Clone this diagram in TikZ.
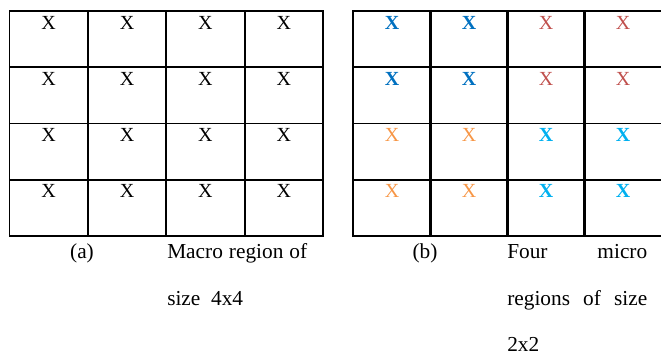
\documentclass[tikz,border=0pt]{standalone}
\usepackage{fontspec}
\setmainfont{Liberation Serif}
\usetikzlibrary{positioning}

\definecolor{microblue}{RGB}{0,112,192}
\definecolor{microred}{RGB}{192,80,77}
\definecolor{microorange}{RGB}{247,150,70}
\definecolor{microcyan}{RGB}{0,176,240}
\newcommand\letterfont{\fontsize{15}{18}\selectfont}

\begin{document}
\begin{tikzpicture}[x=0.75pt,y=-0.75pt,
  cell/.style={rectangle,draw,line width=1.4pt,minimum width=58.8pt,minimum height=42.2pt,inner sep=0pt,anchor=north west},
  letter/.style={anchor=base,inner sep=0pt,font=\letterfont},
  q11/.style={text=microblue,font=\letterfont\bfseries},
  q12/.style={text=microred},
  q21/.style={text=microorange},
  q22/.style={text=microcyan,font=\letterfont\bfseries},
  caption/.style={anchor=base west,inner sep=0pt,font=\fontsize{16}{19}\selectfont}]

\useasboundingbox (0,0) rectangle (661,355);

% (a) macro region
\foreach \r in {1,...,4}{
  \foreach \c in {1,...,4}{
    \node[cell] (a\r\c) at ({8.5+(\c-1)*78.4},{10+(\r-1)*56.25}) {};
    \node[letter] (xa\r\c) at ([yshift=-14.25pt]a\r\c.north) {X};
  }
}

% (b) four micro regions
\foreach \r in {1,...,4}{
  \foreach \c in {1,...,4}{
    \pgfmathtruncatemacro\qr{(\r+1)/2}
    \pgfmathtruncatemacro\qc{(\c+1)/2}
    \node[cell] (b\r\c) at ({352+(\c-1)*77},{10+(\r-1)*56.25}) {};
    \node[letter,q\qr\qc] (xb\r\c) at ([yshift=-14.25pt]b\r\c.north) {X};
  }
}

% captions
\node[caption,anchor=base] (capa) at (82,258) {(a)};
\node[caption] (desca1) at (167,258) {\makebox[105pt][s]{Macro region of}};
\node[caption] (desca2) at (167,305) {size\ \ 4x4};

\node[caption,anchor=base] (capb) at (425,258) {(b)};
\node[caption] (descb1) at (507,258) {\makebox[105pt][s]{Four micro}};
\node[caption] (descb2) at (507,305) {\makebox[105pt][s]{regions of size}};
\node[caption] (descb3) at (507,351) {2x2};

\end{tikzpicture}
\end{document}
